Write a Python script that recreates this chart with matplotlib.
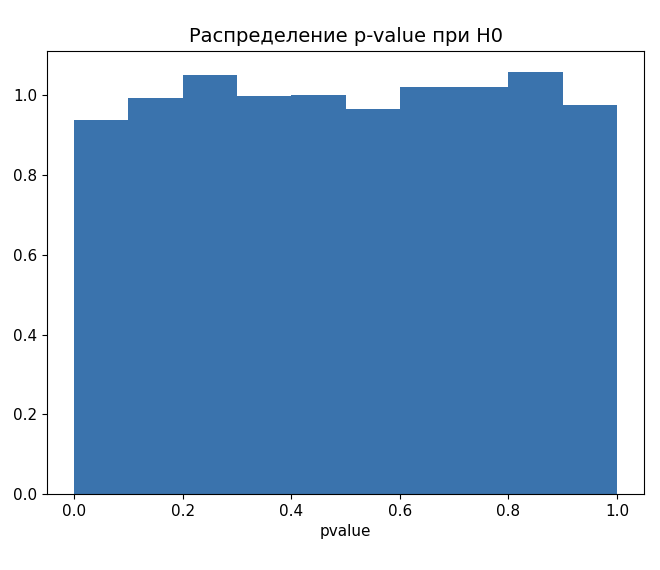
import matplotlib
matplotlib.use("Agg")
import matplotlib.pyplot as plt


# histogram of p-values under H0 (density, 10 bins)
bin_edges = [0.0, 0.1, 0.2, 0.3, 0.4, 0.5, 0.6, 0.7, 0.8, 0.9, 1.0]
density = [0.939, 0.993, 1.050, 0.999, 1.002, 0.966, 1.020, 1.020, 1.059, 0.975]

plt.rcParams['font.size'] = 11

fig = plt.figure(figsize=(6.6, 5.7), dpi=100)
ax = fig.add_axes([0.071, 0.133, 0.905, 0.778])

centers = [(a + b) / 2 for a, b in zip(bin_edges[:-1], bin_edges[1:])]
ax.hist(centers, bins=bin_edges, weights=density, color='#3a73ad')

ax.set_title('Распределение p-value при H0', fontsize=14)
ax.set_xlabel('pvalue')

fig.savefig("out.png", dpi=100)
